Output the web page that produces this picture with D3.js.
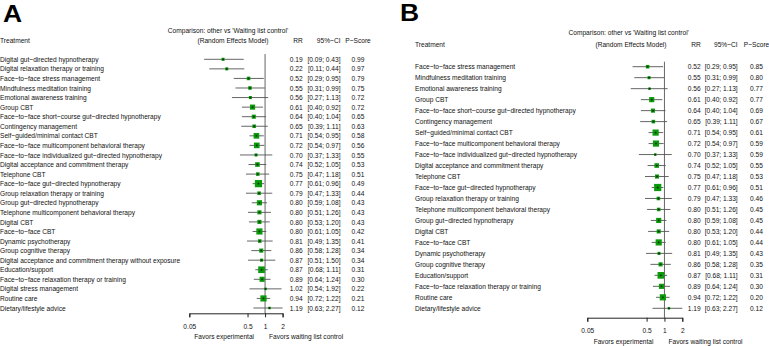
<!DOCTYPE html>
<html>
<head>
<meta charset="utf-8">
<script src="https://cdn.jsdelivr.net/npm/d3@7"></script>
<style>
    body { margin: 0; background: #fff; }
    text { font-family: 'Liberation Sans', Arial, sans-serif; font-size: 7.6px; fill: #111; }
</style>
</head>
<body>
<script>
// panel A data
const treatmentsA = [
    'Digital gut\u2212directed hypnotherapy',
    'Digital relaxation therapy or training',
    'Face\u2212to\u2212face stress management',
    'Mindfulness meditation training',
    'Emotional awareness training',
    'Group CBT',
    'Face\u2212to\u2212face short\u2212course gut\u2212directed hypnotherapy',
    'Contingency management',
    'Self\u2212guided/minimal contact CBT',
    'Face\u2212to\u2212face multicomponent behavioral therapy',
    'Face\u2212to\u2212face individualized gut\u2212directed hypnotherapy',
    'Digital acceptance and commitment therapy',
    'Telephone CBT',
    'Face\u2212to\u2212face gut\u2212directed hypnotherapy',
    'Group relaxation therapy or training',
    'Group gut\u2212directed hypnotherapy',
    'Telephone multicomponent behavioral therapy',
    'Digital CBT',
    'Face\u2212to\u2212face CBT',
    'Dynamic psychotherapy',
    'Group cognitive therapy',
    'Digital acceptance and commitment therapy without exposure',
    'Education/support',
    'Face\u2212to\u2212face relaxation therapy or training',
    'Digital stress management',
    'Routine care',
    'Dietary/lifestyle advice'
];
const rrA = [0.19, 0.22, 0.52, 0.55, 0.56, 0.61, 0.64, 0.65, 0.71, 0.72, 0.70, 0.74, 0.75, 0.77, 0.79, 0.80, 0.80, 0.80, 0.80, 0.81, 0.86, 0.87, 0.87, 0.89, 1.02, 0.94, 1.19];
const lowerA = [0.09, 0.11, 0.29, 0.31, 0.27, 0.40, 0.40, 0.39, 0.54, 0.54, 0.37, 0.52, 0.47, 0.61, 0.47, 0.59, 0.51, 0.53, 0.61, 0.49, 0.58, 0.51, 0.68, 0.64, 0.54, 0.72, 0.63];
const upperA = [0.43, 0.44, 0.95, 0.99, 1.13, 0.92, 1.04, 1.11, 0.95, 0.97, 1.33, 1.05, 1.18, 0.96, 1.33, 1.08, 1.26, 1.20, 1.05, 1.35, 1.28, 1.50, 1.11, 1.24, 1.92, 1.22, 2.27];
const pscoreA = [0.99, 0.97, 0.79, 0.75, 0.72, 0.72, 0.65, 0.63, 0.58, 0.56, 0.55, 0.53, 0.51, 0.49, 0.44, 0.43, 0.43, 0.43, 0.42, 0.41, 0.34, 0.34, 0.31, 0.30, 0.22, 0.21, 0.12];
const weightA = [9, 9, 12, 12, 9, 25, 16, 12, 30, 30, 9, 20, 12, 49, 12, 25, 16, 16, 36, 12, 16, 9, 42, 25, 6, 36, 6];

// panel B data
const treatmentsB = [
    'Face\u2212to\u2212face stress management',
    'Mindfulness meditation training',
    'Emotional awareness training',
    'Group CBT',
    'Face\u2212to\u2212face short\u2212course gut\u2212directed hypnotherapy',
    'Contingency management',
    'Self\u2212guided/minimal contact CBT',
    'Face\u2212to\u2212face multicomponent behavioral therapy',
    'Face\u2212to\u2212face individualized gut\u2212directed hypnotherapy',
    'Digital acceptance and commitment therapy',
    'Telephone CBT',
    'Face\u2212to\u2212face gut\u2212directed hypnotherapy',
    'Group relaxation therapy or training',
    'Telephone multicomponent behavioral therapy',
    'Group gut\u2212directed hypnotherapy',
    'Digital CBT',
    'Face\u2212to\u2212face CBT',
    'Dynamic psychotherapy',
    'Group cognitive therapy',
    'Education/support',
    'Face\u2212to\u2212face relaxation therapy or training',
    'Routine care',
    'Dietary/lifestyle advice'
];
const rrB = [0.52, 0.55, 0.56, 0.61, 0.64, 0.65, 0.71, 0.72, 0.70, 0.74, 0.75, 0.77, 0.79, 0.80, 0.80, 0.80, 0.80, 0.81, 0.86, 0.87, 0.89, 0.94, 1.19];
const lowerB = [0.29, 0.31, 0.27, 0.40, 0.40, 0.39, 0.54, 0.54, 0.37, 0.52, 0.47, 0.61, 0.47, 0.51, 0.59, 0.53, 0.61, 0.49, 0.58, 0.68, 0.64, 0.72, 0.63];
const upperB = [0.95, 0.99, 1.13, 0.92, 1.04, 1.11, 0.95, 0.97, 1.33, 1.05, 1.18, 0.96, 1.33, 1.26, 1.08, 1.20, 1.05, 1.35, 1.28, 1.11, 1.24, 1.22, 2.27];
const pscoreB = [0.85, 0.80, 0.77, 0.77, 0.69, 0.67, 0.61, 0.59, 0.59, 0.55, 0.53, 0.51, 0.46, 0.45, 0.45, 0.44, 0.44, 0.43, 0.35, 0.31, 0.30, 0.20, 0.12];
const weightB = [12, 9, 6, 25, 16, 12, 36, 36, 6, 20, 16, 49, 12, 12, 25, 16, 36, 9, 16, 42, 25, 36, 6];

const tickValues = [0.05, 0.5, 1, 2];

const width = 769;
const height = 346;
const squeeze = 0.87; // horizontal squeeze to mimic the condensed font

const svg = d3.select('body').append('svg')
    .attr('width', width)
    .attr('height', height);

drawForest({
    letter: 'A', letterX: 3, letterY: 22,
    labelX: 0,
    headTop: 33, headY: 43,
    rowTop: 59.3, rowBottom: 308,
    plotLeft: 189.3, plotRight: 282.6,
    refTop: 54,
    axisY: 313.3,
    rrRight: 302.7, ciRight: 340.5, pCenter: 358,
    cmpCenter: 228, remCenter: 233
}, treatmentsA, rrA, lowerA, upperA, pscoreA, weightA);

drawForest({
    letter: 'B', letterX: 400, letterY: 21,
    labelX: 415,
    headTop: 35, headY: 46.5,
    rowTop: 66.7, rowBottom: 308.3,
    plotLeft: 587.3, plotRight: 682.3,
    refTop: 61.7,
    axisY: 317.7,
    rrRight: 700.7, ciRight: 737.7, pCenter: 756.5,
    cmpCenter: 628.7, remCenter: 631
}, treatmentsB, rrB, lowerB, upperB, pscoreB, weightB);

// text squeezed horizontally around its anchor point
function addText(parent, x, y, anchor, str)
{
    return parent.append('text')
        .attr('transform', `translate(${x}, ${y}) scale(${squeeze}, 1)`)
        .attr('text-anchor', anchor)
        .text(str);
}

function drawForest(o, names, rr, lower, upper, pscore, weight)
{
    const g = svg.append('g');
    const fmt = d3.format('.2f');
    const rows = names.map((n, i) => ({ name: n, rr: rr[i], lo: lower[i], hi: upper[i], p: pscore[i], w: weight[i] }));

    // panel letter
    g.append('text')
        .attr('transform', `translate(${o.letterX}, ${o.letterY}) scale(1.15, 1)`)
        .style('font-size', '23px')
        .style('font-weight', 'bold')
        .style('fill', '#000')
        .text(o.letter);

    // scales
    const x = d3.scaleLog()
        .domain([0.05, 2])
        .range([o.plotLeft, o.plotRight]);

    const y = d3.scalePoint()
        .domain(d3.range(rows.length))
        .range([o.rowTop, o.rowBottom]);

    const size = d3.scaleSqrt()
        .domain([0, 49])
        .range([0, 7.2]);

    // headers
    addText(g, o.labelX, o.headY, 'start', 'Treatment');
    addText(g, o.cmpCenter, o.headTop, 'middle', 'Comparison: other vs \'Waiting list control\'');
    addText(g, o.remCenter, o.headY, 'middle', '(Random Effects Model)');
    addText(g, o.rrRight, o.headY, 'end', 'RR');
    addText(g, o.ciRight, o.headY, 'end', '95%\u2212CI');
    addText(g, o.pCenter, o.headY, 'middle', 'P\u2212Score');

    // reference line at 1
    g.append('line')
        .attr('x1', x(1)).attr('x2', x(1))
        .attr('y1', o.refTop).attr('y2', o.axisY)
        .attr('stroke', '#666')
        .attr('stroke-width', 1);

    const row = g.selectAll('g.row')
        .data(rows)
        .enter()
        .append('g')
        .attr('class', 'row')
        .attr('transform', (d, i) => `translate(0, ${y(i)})`);

    row.each(function(d)
    {
        const r = d3.select(this);
        addText(r, o.labelX, 2.6, 'start', d.name);
        addText(r, o.rrRight, 2.6, 'end', fmt(d.rr));
        addText(r, o.ciRight, 2.6, 'end', `[${fmt(d.lo)}; ${fmt(d.hi)}]`);
        addText(r, o.pCenter, 2.6, 'middle', fmt(d.p));
    });

    // confidence intervals
    row.append('line')
        .attr('x1', d => x(Math.max(d.lo, 0.05)))
        .attr('x2', d => x(Math.min(d.hi, 2)))
        .attr('stroke', '#555')
        .attr('stroke-width', 0.9);

    // squares
    row.append('rect')
        .attr('x', d => x(d.rr) - size(d.w) / 2)
        .attr('y', d => -size(d.w) / 2)
        .attr('width', d => size(d.w))
        .attr('height', d => size(d.w))
        .attr('fill', '#0a9a0a');

    row.append('circle')
        .attr('cx', d => x(d.rr))
        .attr('r', 0.9)
        .attr('fill', '#0a2a0a');

    // x-axis
    const axis = g.append('g')
        .attr('transform', `translate(0, ${o.axisY})`)
        .call(d3.axisBottom(x)
            .tickValues(tickValues)
            .tickFormat(d => String(d))
            .tickSize(4)
            .tickSizeOuter(4)
            .tickPadding(6));

    axis.attr('font-family', null).attr('font-size', null);
    axis.selectAll('path, line').attr('stroke', '#222');
    axis.selectAll('text').attr('transform', `scale(${squeeze}, 1)`)
        .attr('x', d => 0);

    addText(g, x(1) - 11, o.axisY + 26, 'end', 'Favors experimental');
    addText(g, x(1) + 4, o.axisY + 26, 'start', 'Favors waiting list control');
}
</script>
</body>
</html>
